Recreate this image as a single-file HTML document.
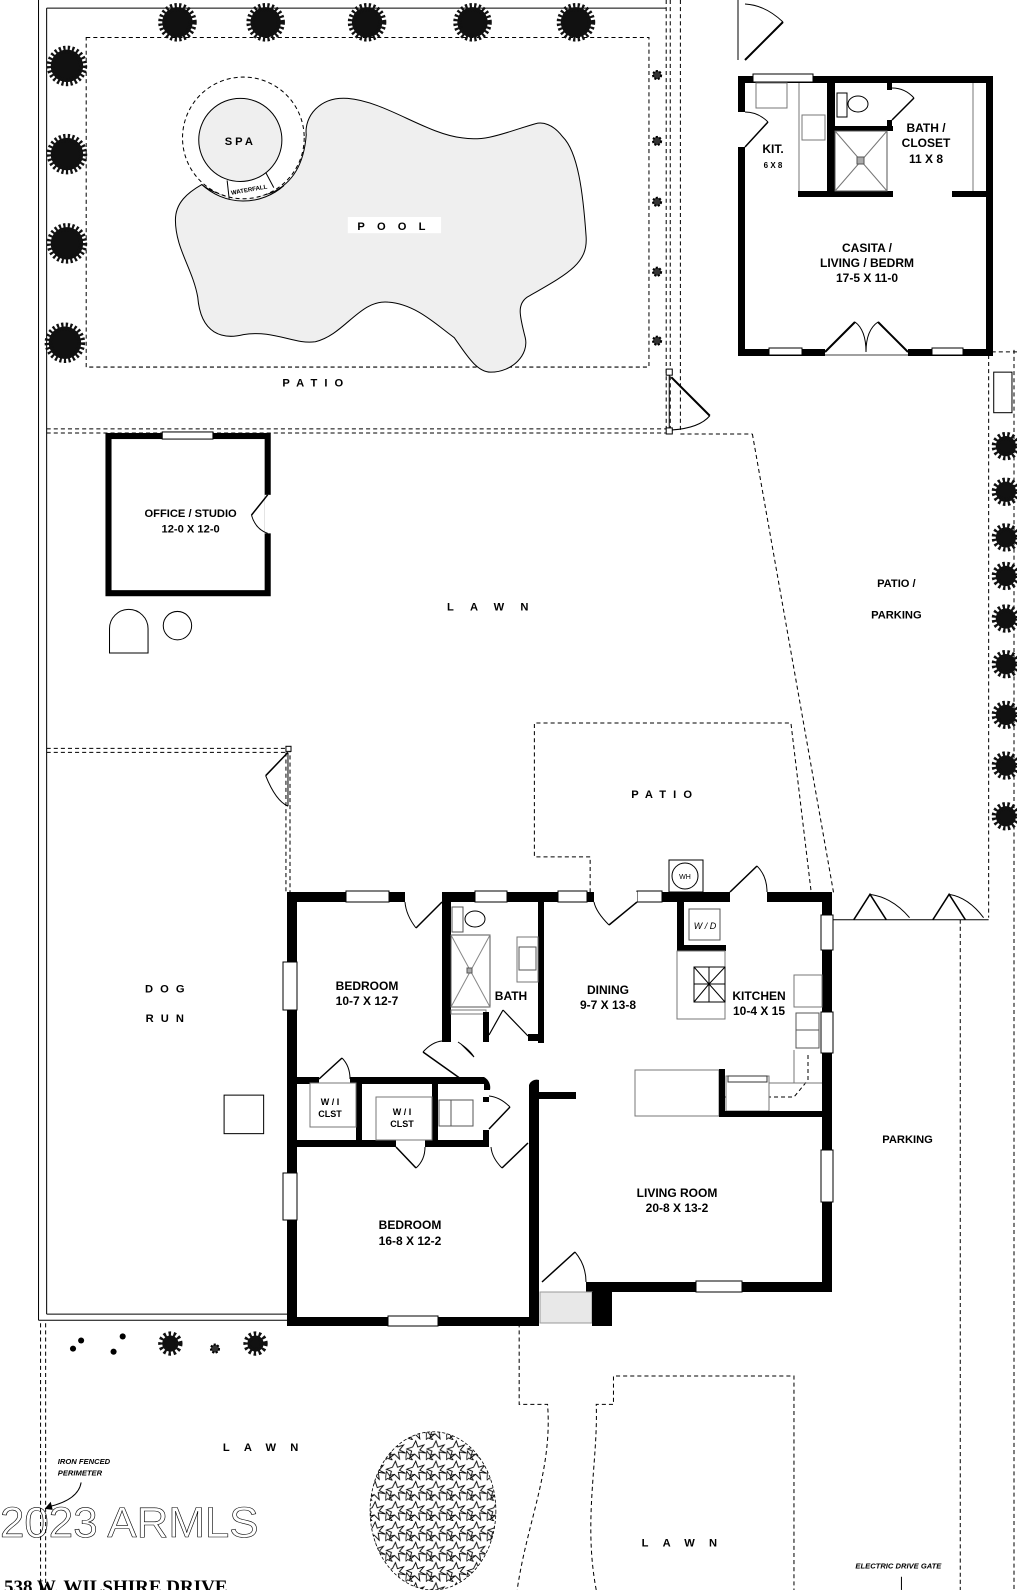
<!DOCTYPE html>
<html><head><meta charset="utf-8"><style>
html,body{margin:0;padding:0;background:#fff;}
svg{display:block;}
text{font-family:"Liberation Sans",Arial,sans-serif;font-weight:bold;fill:#000;}
.lab{font-size:12px;text-anchor:middle;}
.sp{font-size:11px;text-anchor:middle;letter-spacing:7px;}
</style></head><body>
<svg width="1017" height="1590" viewBox="0 0 1017 1590" xmlns="http://www.w3.org/2000/svg">
<defs>
<pattern id="sc" width="20" height="20" patternUnits="userSpaceOnUse">
<polygon points="10,1 12,7 18,5 14,10 20,13 13,12 14,19 9,14 4,18 6,11 1,9 7,7" fill="none" stroke="#000" stroke-width="0.9"/>
<polygon points="1,11 4,15 9,14 5,17 7,20 2,18 0,20" fill="none" stroke="#000" stroke-width="0.8"/>
</pattern>
</defs>
<rect width="1017" height="1590" fill="#fff"/>
<g transform="scale(1.014)">
<g stroke="#000" fill="none" stroke-width="1">
<line x1="38" y1="0" x2="38" y2="1302"/>
<line x1="46" y1="8" x2="46" y2="1296"/>
<line x1="46" y1="8" x2="657" y2="8"/>
<line x1="38" y1="1302" x2="285" y2="1302"/>
<line x1="46" y1="1296" x2="285" y2="1296"/>
</g>
<g stroke="#000" fill="none" stroke-width="1" stroke-dasharray="4 3">
<rect x="85" y="37" width="555" height="325"/>
<line x1="657" y1="0" x2="657" y2="425"/><line x1="661" y1="0" x2="661" y2="425"/><line x1="671" y1="0" x2="671" y2="425"/>
<line x1="46" y1="423" x2="660" y2="423"/><line x1="46" y1="427" x2="660" y2="427"/>
<line x1="671" y1="428" x2="742" y2="428"/><line x1="742" y1="428" x2="822" y2="880"/>
<line x1="975" y1="350" x2="975" y2="905"/><line x1="1000" y1="345" x2="1000" y2="1568"/>
<line x1="978" y1="347" x2="1003" y2="347"/>
<line x1="46" y1="738" x2="285" y2="738"/><line x1="46" y1="742" x2="282" y2="742"/>
<line x1="282" y1="742" x2="282" y2="880"/><line x1="286" y1="738" x2="286" y2="880"/>
<polyline points="582,880 582,845 527,845 527,713 780,713 800,880"/>
<line x1="40" y1="1305" x2="40" y2="1568"/><line x1="45" y1="1305" x2="45" y2="1568"/>
<path d="M512,1305 V1385 H540 C545,1450 520,1500 510,1568"/>
<path d="M588,1568 C575,1500 590,1440 588,1385 H605 V1357 H783 V1568"/>
<line x1="947" y1="907" x2="947" y2="1568"/>
</g>
<rect x="980" y="367" width="18" height="40" fill="none" stroke="#000"/>
<rect x="657" y="364" width="6" height="6" fill="#fff" stroke="#000"/>
<rect x="657" y="422" width="6" height="6" fill="#fff" stroke="#000"/>
<line x1="660" y1="370" x2="660" y2="422" stroke="#000"/>
<line x1="662" y1="372" x2="700" y2="410" stroke="#000" stroke-width="2"/>
<path d="M700,410 Q690,422 663,424" fill="none" stroke="#000"/>
<g fill="#111" stroke="#111" stroke-width="8" stroke-dasharray="2 2">
<circle cx="175" cy="22" r="15"/><circle cx="262" cy="22" r="15"/><circle cx="362" cy="22" r="15"/><circle cx="466" cy="22" r="15"/><circle cx="568" cy="22" r="15"/>
<circle cx="66" cy="65" r="16"/><circle cx="66" cy="152" r="16"/><circle cx="66" cy="240" r="16"/><circle cx="64" cy="338" r="16"/>
<circle cx="992" cy="440" r="10"/><circle cx="992" cy="485" r="10"/><circle cx="992" cy="530" r="10"/><circle cx="992" cy="568" r="10"/><circle cx="992" cy="610" r="10"/><circle cx="992" cy="655" r="10"/><circle cx="992" cy="705" r="10"/><circle cx="992" cy="755" r="10"/><circle cx="992" cy="805" r="10"/>
<circle cx="168" cy="1325" r="8"/><circle cx="252" cy="1325" r="8"/>
</g>
<g fill="#000"><circle cx="72" cy="1330" r="3"/><circle cx="80" cy="1322" r="3"/><circle cx="112" cy="1333" r="3"/><circle cx="121" cy="1318" r="3"/></g>
<g fill="#333" stroke="#000" stroke-width="2" stroke-dasharray="2 1.5">
<circle cx="648" cy="74" r="4"/><circle cx="648" cy="139" r="4"/><circle cx="648" cy="199" r="4"/><circle cx="648" cy="268" r="4"/><circle cx="648" cy="336" r="4"/><circle cx="212" cy="1330" r="4"/>
</g>
<path d="M199,182 C185,190 173,200 173,217 C173,245 190,265 195,293 C198,330 220,335 240,330 C270,325 290,340 311,337 C340,330 355,295 383,298 C410,300 430,320 448,333 C460,350 470,367 484,367 C505,367 522,350 518,333 C512,310 510,300 520,293 C560,270 580,260 578,233 C575,190 570,150 555,135 C545,122 535,120 528,122 C500,130 480,140 456,136 C420,132 380,100 343,97 C315,95 300,115 302,133 C300,160 290,180 268,190 C245,198 215,195 199,182 Z" fill="#efefef" stroke="#000"/>
<circle cx="240" cy="136" r="60" fill="#fff" stroke="#000" stroke-dasharray="4 3"/>
<path d="M199,182 A60,60 0 0 0 280,183" fill="none" stroke="#000"/>
<circle cx="237" cy="138" r="41" fill="#efefef" stroke="#000"/>
<line x1="224" y1="178" x2="226" y2="196" stroke="#000"/><line x1="262" y1="170" x2="270" y2="185" stroke="#000"/>
<text x="246" y="189" font-size="6" font-weight="normal" text-anchor="middle" transform="rotate(-10 246 189)">WATERFALL</text>
<text x="237" y="143" class="sp" style="letter-spacing:3px">SPA</text>
<rect x="343" y="214" width="92" height="16" fill="#fff"/>
<text x="392" y="227" class="sp" style="letter-spacing:12px">POOL</text>
<text x="312" y="381" class="sp">PATIO</text>
<rect x="107" y="430" width="157" height="155" fill="none" stroke="#000" stroke-width="6"/>
<rect x="160" y="426" width="50" height="7" fill="#fff" stroke="#000" stroke-width="1"/>
<rect x="261" y="488" width="7" height="38" fill="#fff"/>
<line x1="264" y1="488" x2="248" y2="508" stroke="#000" stroke-width="1.5"/>
<path d="M248,508 Q252,522 264,526" fill="none" stroke="#000"/>
<text x="188" y="510" class="lab" style="font-size:11px">OFFICE / STUDIO</text>
<text x="188" y="525" class="lab" style="font-size:11px">12-0  X  12-0</text>
<path d="M108,644 V620 A19,19 0 0 1 146,620 V644 Z" fill="#fff" stroke="#000"/>
<circle cx="175" cy="617" r="14" fill="#fff" stroke="#000"/>
<rect x="282" y="736" width="5" height="5" fill="#fff" stroke="#000"/>
<line x1="284" y1="742" x2="262" y2="765" stroke="#000" stroke-width="1.5"/>
<path d="M262,765 Q272,790 284,795" fill="none" stroke="#000"/>
<line x1="284" y1="742" x2="284" y2="795" stroke="#000"/>
<text x="166" y="979" class="sp">DOG</text>
<text x="166" y="1008" class="sp">RUN</text>
<rect x="221" y="1080" width="39" height="38" fill="#fff" stroke="#000"/>
<text x="489" y="602" class="sp" style="letter-spacing:16px">LAWN</text>
<text x="656" y="787" class="sp">PATIO</text>
<text x="884" y="579" class="lab" style="font-size:11px">PATIO /</text>
<text x="884" y="610" class="lab" style="font-size:11px">PARKING</text>
<text x="895" y="1127" class="lab" style="font-size:11px">PARKING</text>
<line x1="822" y1="907" x2="975" y2="907" stroke="#000"/>
<polyline points="842,907 858,882 874,907" fill="none" stroke="#000" stroke-width="1.5"/>
<polyline points="920,907 936,882 952,907" fill="none" stroke="#000" stroke-width="1.5"/>
<path d="M858,882 Q880,885 897,905 M936,882 Q955,885 970,905" fill="none" stroke="#000"/>
<ellipse cx="427" cy="1490" rx="62" ry="78" fill="url(#sc)" stroke="#000" stroke-width="0.8" stroke-dasharray="3 2"/>
<text x="264" y="1431" class="sp" style="letter-spacing:14px">LAWN</text>
<text x="677" y="1525" class="sp" style="letter-spacing:14px">LAWN</text>
<text x="57" y="1444" font-size="7.5" font-style="italic" font-weight="normal">IRON FENCED</text>
<text x="57" y="1455" font-size="7.5" font-style="italic" font-weight="normal">PERIMETER</text>
<path d="M80,1462 C78,1475 65,1482 48,1486" fill="none" stroke="#000"/>
<polygon points="44,1488 50,1481 52,1489" fill="#000"/>
<text x="0" y="1516" font-size="42" font-weight="normal" stroke="#000" stroke-width="0.6" style="fill:none;font-weight:normal" textLength="255" lengthAdjust="spacingAndGlyphs">2023 ARMLS</text>
<text x="886" y="1547" font-size="7.5" font-style="italic" font-weight="normal" text-anchor="middle">ELECTRIC DRIVE GATE</text>
<line x1="889" y1="1555" x2="889" y2="1568" stroke="#000"/>
</g>
<text x="4" y="1593" font-size="19" style="font-family:'Liberation Serif',serif;font-weight:bold">538 W. WILSHIRE  DRIVE</text>

<g>
<line x1="738" y1="0" x2="738" y2="60" stroke="#000"/>
<line x1="745" y1="60" x2="783" y2="22" stroke="#000" stroke-width="2"/>
<path d="M783,22 Q765,5 745,4" fill="none" stroke="#000"/>
<rect x="738" y="76" width="255" height="7" fill="#000"/>
<rect x="738" y="76" width="7" height="280" fill="#000"/>
<rect x="986" y="76" width="7" height="280" fill="#000"/>
<rect x="738" y="349" width="255" height="7" fill="#000"/>
<rect x="753" y="74" width="60" height="8" fill="#fff" stroke="#000"/>
<rect x="737" y="112" width="9" height="35" fill="#fff"/>
<line x1="745" y1="147" x2="768" y2="122" stroke="#000" stroke-width="1.5"/>
<path d="M768,122 Q758,112 745,112" fill="none" stroke="#000"/>
<rect x="827" y="83" width="8" height="112" fill="#000"/>
<rect x="798" y="191" width="95" height="6" fill="#000"/>
<rect x="952" y="191" width="35" height="6" fill="#000"/>
<rect x="835" y="126" width="58" height="5" fill="#000"/>
<rect x="887" y="83" width="5" height="7" fill="#000"/><rect x="887" y="120" width="5" height="11" fill="#000"/>
<line x1="892" y1="120" x2="914" y2="98" stroke="#000" stroke-width="1.5"/>
<path d="M914,98 Q905,88 892,88" fill="none" stroke="#000"/>
<rect x="756" y="83" width="31" height="25" fill="#fff" stroke="#777"/>
<line x1="799" y1="83" x2="799" y2="191" stroke="#777"/>
<rect x="802" y="115" width="23" height="25" fill="#fff" stroke="#777"/>
<rect x="837" y="93" width="10" height="24" fill="#fff" stroke="#000"/>
<ellipse cx="858" cy="104" rx="10" ry="8" fill="#fff" stroke="#000"/>
<rect x="835" y="131" width="52" height="60" fill="#fff" stroke="#555"/>
<path d="M835,131 L887,191 M887,131 L835,191" stroke="#777"/>
<rect x="857" y="157" width="7" height="7" fill="#aaa" stroke="#555"/>
<line x1="973" y1="83" x2="973" y2="191" stroke="#777"/>
<rect x="769" y="348" width="33" height="7" fill="#fff" stroke="#000"/>
<rect x="932" y="348" width="31" height="7" fill="#fff" stroke="#000"/>
<rect x="825" y="348" width="83" height="9" fill="#fff"/>
<line x1="825" y1="355" x2="908" y2="355" stroke="#000" stroke-width="0.8"/>
<line x1="825" y1="352" x2="855" y2="322" stroke="#000" stroke-width="2"/>
<line x1="908" y1="352" x2="878" y2="322" stroke="#000" stroke-width="2"/>
<path d="M855,322 Q866,330 866,352 M878,322 Q866,330 866,352" fill="none" stroke="#000"/>
<text x="773" y="153" class="lab">KIT.</text>
<text x="773" y="168" class="lab" style="font-size:8px">6 X 8</text>
<text x="926" y="132" class="lab">BATH /</text>
<text x="926" y="147" class="lab">CLOSET</text>
<text x="926" y="163" class="lab">11 X 8</text>
<text x="867" y="252" class="lab">CASITA /</text>
<text x="867" y="267" class="lab">LIVING / BEDRM</text>
<text x="867" y="282" class="lab">17-5 X 11-0</text>
</g>

<g>
<rect x="669" y="860" width="34" height="32" fill="#fff" stroke="#000"/>
<circle cx="685" cy="876" r="13" fill="#fff" stroke="#000"/>
<text x="685" y="879" class="lab" style="font-size:7px;font-weight:normal">WH</text>
<rect x="287" y="892" width="545" height="10" fill="#000"/>
<rect x="287" y="892" width="10" height="434" fill="#000"/>
<rect x="822" y="892" width="10" height="400" fill="#000"/>
<rect x="346" y="891" width="43" height="11" fill="#fff" stroke="#000"/>
<rect x="475" y="891" width="32" height="11" fill="#fff" stroke="#000"/>
<rect x="558" y="891" width="29" height="11" fill="#fff" stroke="#000"/>
<rect x="637" y="891" width="25" height="11" fill="#fff" stroke="#000"/>
<rect x="405" y="892" width="37" height="10" fill="#fff"/>
<rect x="594" y="892" width="43" height="10" fill="#fff"/>
<rect x="730" y="892" width="37" height="10" fill="#fff"/>
<line x1="442" y1="902" x2="416" y2="928" stroke="#000" stroke-width="1.5"/><path d="M416,928 Q406,915 405,902" fill="none" stroke="#000"/>
<line x1="637" y1="902" x2="609" y2="925" stroke="#000" stroke-width="1.5"/><path d="M609,925 Q596,912 594,902" fill="none" stroke="#000"/>
<line x1="730" y1="892" x2="757" y2="866" stroke="#000" stroke-width="1.5"/><path d="M757,866 Q767,876 767,892" fill="none" stroke="#000"/>
<rect x="821" y="915" width="12" height="35" fill="#fff" stroke="#000"/>
<rect x="821" y="1012" width="12" height="41" fill="#fff" stroke="#000"/>
<rect x="821" y="1150" width="12" height="52" fill="#fff" stroke="#000"/>
<rect x="283" y="962" width="14" height="48" fill="#fff" stroke="#000"/>
<rect x="283" y="1173" width="14" height="47" fill="#fff" stroke="#000"/>
<rect x="442" y="892" width="9" height="150" fill="#000"/>
<rect x="538" y="892" width="6" height="151" fill="#000"/>
<rect x="452" y="907" width="11" height="25" fill="#fff" stroke="#555"/>
<ellipse cx="475" cy="919" rx="10" ry="8" fill="#fff" stroke="#000"/>
<rect x="451" y="935" width="39" height="72" fill="#fff" stroke="#555"/>
<path d="M451,935 L490,1007 M490,935 L451,1007" stroke="#888"/>
<rect x="467" y="968" width="5" height="5" fill="#aaa" stroke="#555"/>
<rect x="517" y="937" width="21" height="45" fill="#fff" stroke="#777"/>
<rect x="519" y="947" width="17" height="23" fill="#fff" stroke="#555"/>
<rect x="451" y="1010" width="35" height="4" fill="none" stroke="#777"/>
<rect x="483" y="1012" width="6" height="30" fill="#000"/>
<rect x="528" y="1034" width="10" height="7" fill="#000"/>
<line x1="489" y1="1035" x2="503" y2="1010" stroke="#000" stroke-width="1.2"/>
<line x1="503" y1="1010" x2="528" y2="1036" stroke="#000" stroke-width="1.2"/>
<path d="M458,1042 Q470,1050 474,1057 L461,1044" fill="none" stroke="#000"/>
<line x1="461" y1="1079" x2="423" y2="1052" stroke="#000" stroke-width="1.5"/>
<path d="M423,1052 Q432,1042 442,1041" fill="none" stroke="#000"/>
<rect x="297" y="1077" width="22" height="7" fill="#000"/>
<rect x="350" y="1077" width="134" height="7" fill="#000"/>
<path d="M484,1077 A12,12 0 0 1 490,1090 L484,1090 Z" fill="#000"/>
<line x1="319" y1="1079" x2="342" y2="1058" stroke="#000" stroke-width="1.5"/><path d="M342,1058 Q350,1066 350,1079" fill="none" stroke="#000"/>
<rect x="356" y="1083" width="6" height="60" fill="#000"/>
<rect x="432" y="1083" width="6" height="60" fill="#000"/>
<rect x="483" y="1097" width="6" height="5" fill="#000"/>
<rect x="297" y="1140" width="99" height="7" fill="#000"/>
<rect x="425" y="1140" width="64" height="7" fill="#000"/>
<rect x="483" y="1130" width="6" height="17" fill="#000"/>
<line x1="396" y1="1147" x2="416" y2="1168" stroke="#000" stroke-width="1.5"/><path d="M416,1168 Q425,1160 425,1147" fill="none" stroke="#000"/>
<line x1="489" y1="1129" x2="510" y2="1107" stroke="#000" stroke-width="1.5"/><path d="M510,1107 Q500,1097 489,1096" fill="none" stroke="#000"/>
<line x1="528" y1="1143" x2="502" y2="1168" stroke="#000" stroke-width="1.5"/><path d="M502,1168 Q492,1158 491,1147" fill="none" stroke="#000"/>
<rect x="310" y="1083" width="46" height="44" fill="#fff" stroke="#777"/>
<rect x="376" y="1097" width="56" height="43" fill="#fff" stroke="#777"/>
<rect x="439" y="1100" width="34" height="26" fill="#fff" stroke="#555"/><line x1="451" y1="1100" x2="451" y2="1126" stroke="#555"/>
<rect x="529" y="1085" width="10" height="241" fill="#000"/>
<path d="M529,1085 A8,8 0 0 1 539,1080 V1090 Z" fill="#000"/>
<rect x="539" y="1092" width="37" height="7" fill="#000"/>
<rect x="287" y="1317" width="252" height="9" fill="#000"/>
<rect x="388" y="1316" width="50" height="10" fill="#fff" stroke="#000"/>
<rect x="585" y="1282" width="247" height="10" fill="#000"/>
<rect x="696" y="1281" width="46" height="11" fill="#fff" stroke="#000"/>
<rect x="539" y="1282" width="47" height="10" fill="#fff"/>
<line x1="542" y1="1282" x2="575" y2="1252" stroke="#000" stroke-width="1.5"/><path d="M575,1252 Q586,1265 586,1282" fill="none" stroke="#000"/>
<rect x="540" y="1292" width="52" height="31" fill="#e8e8e8" stroke="#999"/>
<rect x="592" y="1292" width="20" height="34" fill="#000"/>
<rect x="677" y="892" width="7" height="58" fill="#000"/>
<rect x="677" y="945" width="49" height="6" fill="#000"/>
<rect x="689" y="909" width="31" height="31" fill="#fff" stroke="#555"/>
<text x="705" y="929" class="lab" style="font-size:9px;font-style:italic;font-weight:normal">W / D</text>
<rect x="677" y="951" width="48" height="68" fill="#fff" stroke="#777"/>
<rect x="694" y="967" width="31" height="35" fill="#fff" stroke="#000"/>
<path d="M694,967 L709,984 L694,1002 M725,967 L709,984 L725,1002 M709,967 V1002 M694,984 H725" stroke="#000" fill="none"/>
<rect x="794" y="975" width="28" height="32" fill="#fff" stroke="#777"/>
<rect x="796" y="1013" width="23" height="35" fill="#fff" stroke="#555"/>
<line x1="796" y1="1030" x2="819" y2="1030" stroke="#555"/>
<path d="M808,1055 V1080 L794,1097 H725" fill="none" stroke="#000" stroke-dasharray="4 3"/>
<line x1="794" y1="1050" x2="794" y2="1083" stroke="#777"/><line x1="769" y1="1083" x2="822" y2="1083" stroke="#777"/>
<rect x="726" y="1076" width="43" height="35" fill="#fff" stroke="#777"/>
<rect x="728" y="1076" width="39" height="6" fill="#fff" stroke="#333"/>
<rect x="635" y="1070" width="84" height="46" fill="#fff" stroke="#777"/>
<rect x="719" y="1069" width="6" height="48" fill="#000"/>
<rect x="719" y="1111" width="113" height="6" fill="#000"/>
<text x="367" y="990" class="lab">BEDROOM</text>
<text x="367" y="1005" class="lab">10-7 X 12-7</text>
<text x="511" y="1000" class="lab">BATH</text>
<text x="608" y="994" class="lab">DINING</text>
<text x="608" y="1009" class="lab">9-7 X 13-8</text>
<text x="759" y="1000" class="lab">KITCHEN</text>
<text x="759" y="1015" class="lab">10-4 X 15</text>
<text x="330" y="1105" class="lab" style="font-size:9px">W / I</text>
<text x="330" y="1117" class="lab" style="font-size:9px">CLST</text>
<text x="402" y="1115" class="lab" style="font-size:9px">W / I</text>
<text x="402" y="1127" class="lab" style="font-size:9px">CLST</text>
<text x="410" y="1229" class="lab">BEDROOM</text>
<text x="410" y="1245" class="lab">16-8 X 12-2</text>
<text x="677" y="1197" class="lab">LIVING ROOM</text>
<text x="677" y="1212" class="lab">20-8  X  13-2</text>
</g>
</svg>
</body></html>
